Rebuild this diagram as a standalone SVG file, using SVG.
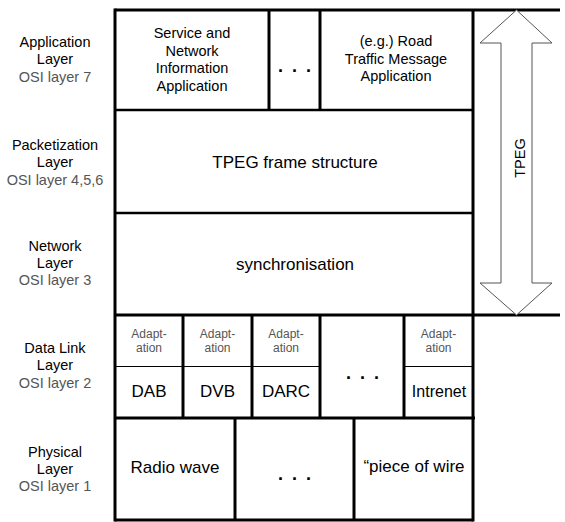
<svg xmlns="http://www.w3.org/2000/svg" width="565" height="522" viewBox="0 0 565 522">
<style>
text{font-family:"Liberation Sans",Arial,sans-serif;fill:#000;text-anchor:middle}
.lbl{font-size:14.5px}
.osi{font-size:14.5px;fill:#555}
.box{font-size:14.5px}
.big{font-size:17px}
.ad{font-size:12px;fill:#555}
.dots{font-size:18px;font-weight:bold;letter-spacing:2px}
.thick{stroke:#000;stroke-width:3;fill:none}
.mid{stroke:#000;stroke-width:2.5;fill:none}
.thin{stroke:#000;stroke-width:1;fill:none}
</style>
<rect width="565" height="522" fill="#fff"/>
<g id="labels">
<g id="lbl-app"><text class="lbl" x="55" y="47">Application</text><text class="lbl" x="55" y="64">Layer</text><text class="osi" x="55" y="82">OSI layer 7</text></g>
<g id="lbl-pkt"><text class="lbl" x="55" y="150">Packetization</text><text class="lbl" x="55" y="167">Layer</text><text class="osi" x="55" y="185">OSI layer 4,5,6</text></g>
<g id="lbl-net"><text class="lbl" x="55" y="251">Network</text><text class="lbl" x="55" y="268">Layer</text><text class="osi" x="55" y="285">OSI layer 3</text></g>
<g id="lbl-dl"><text class="lbl" x="55" y="353">Data Link</text><text class="lbl" x="55" y="370">Layer</text><text class="osi" x="55" y="388">OSI layer 2</text></g>
<g id="lbl-phy"><text class="lbl" x="55" y="457">Physical</text><text class="lbl" x="55" y="474">Layer</text><text class="osi" x="55" y="491">OSI layer 1</text></g>
</g>
<g id="grid">
<line class="thick" x1="115" y1="10" x2="560" y2="10"/>
<line class="thick" x1="115" y1="315" x2="560" y2="315"/>
<line class="thick" x1="115" y1="8.5" x2="115" y2="521.5"/>
<line class="thick" x1="473" y1="10" x2="473" y2="521.5"/>
<line class="thick" x1="115" y1="520" x2="473" y2="520"/>
<line class="mid" x1="115" y1="110" x2="473" y2="110"/>
<line class="mid" x1="115" y1="213" x2="473" y2="213"/>
<line class="thick" x1="269" y1="10" x2="269" y2="110"/>
<line class="thick" x1="320" y1="10" x2="320" y2="110"/>
<line class="thick" x1="115" y1="418" x2="475" y2="418"/>
<line class="thick" x1="183" y1="315" x2="183" y2="418"/>
<line class="thick" x1="252" y1="315" x2="252" y2="418"/>
<line class="thick" x1="320" y1="315" x2="320" y2="418"/>
<line class="thick" x1="404" y1="315" x2="404" y2="418"/>
<line class="thin" x1="115" y1="366.5" x2="320" y2="366.5"/>
<line class="thin" x1="404" y1="366.5" x2="473" y2="366.5"/>
<line class="thick" x1="235" y1="418" x2="235" y2="520"/>
<line class="thick" x1="354" y1="418" x2="354" y2="520"/>
</g>
<g id="node-sni"><text class="box" x="192" y="38">Service and</text><text class="box" x="192" y="55.5">Network</text><text class="box" x="192" y="73">Information</text><text class="box" x="192" y="90.5">Application</text></g>
<g id="node-appdots"><text class="dots" x="295.5" y="72">. . .</text></g>
<g id="node-rtm"><text class="box" x="396" y="46">(e.g.) Road</text><text class="box" x="396" y="63.5">Traffic Message</text><text class="box" x="396" y="81">Application</text></g>
<g id="node-frame"><text class="big" x="295" y="168">TPEG frame structure</text></g>
<g id="node-sync"><text class="big" x="295" y="270">synchronisation</text></g>
<g id="node-dab"><text class="ad" x="149" y="337.5">Adapt-</text><text class="ad" x="149" y="351.5">ation</text><text class="big" x="149" y="397">DAB</text></g>
<g id="node-dvb"><text class="ad" x="217.5" y="337.5">Adapt-</text><text class="ad" x="217.5" y="351.5">ation</text><text class="big" x="217.5" y="397">DVB</text></g>
<g id="node-darc"><text class="ad" x="286" y="337.5">Adapt-</text><text class="ad" x="286" y="351.5">ation</text><text class="big" x="286" y="397">DARC</text></g>
<g id="node-dldots"><text class="dots" x="363.5" y="378.5">. . .</text></g>
<g id="node-inet"><text class="ad" x="438.5" y="337.5">Adapt-</text><text class="ad" x="438.5" y="351.5">ation</text><text class="big" x="439" y="397" style="font-size:16px">Intrenet</text></g>
<g id="node-radio"><text class="big" x="175" y="473">Radio wave</text></g>
<g id="node-phydots"><text class="dots" x="295.5" y="480">. . .</text></g>
<g id="node-wire"><text class="big" x="414" y="472">“piece of wire</text></g>
<g id="connectors">
<polygon points="516.5,10 480,43 501,43 501,283 480,283 516.5,315 552,283 532,283 532,43 552,43" fill="#fff" stroke="#555" stroke-width="1"/>
<text class="lbl" transform="translate(525,158) rotate(-90)">TPEG</text>
</g>
</svg>
